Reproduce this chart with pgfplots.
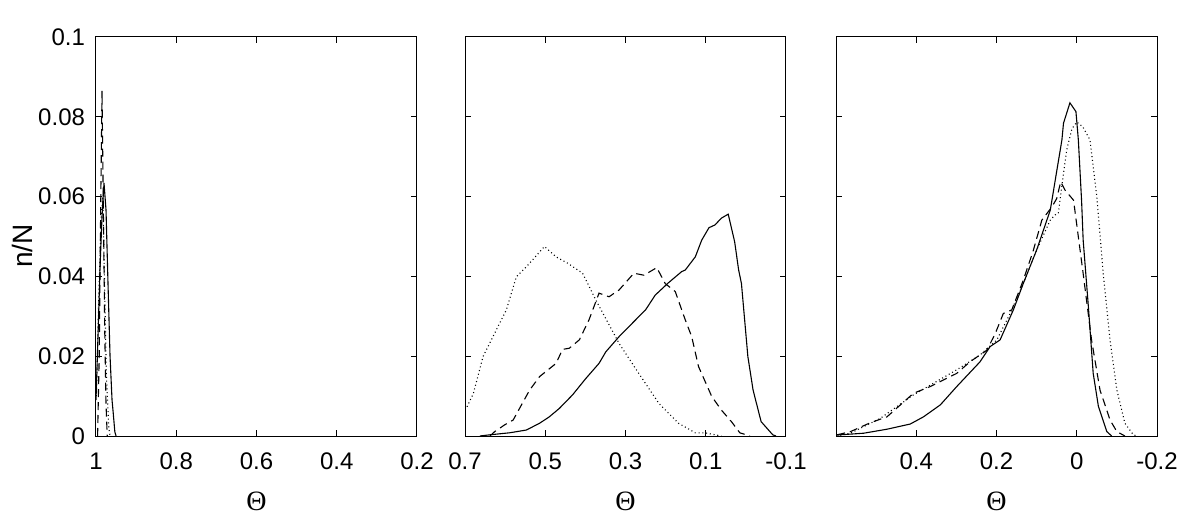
\documentclass[border=0pt]{standalone}
\usepackage{fontspec}
\setmainfont{Liberation Sans}
\newfontfamily\thetafont{Liberation Serif}
\usepackage{pgfplots}
\pgfplotsset{compat=1.18}
\pgfplotsset{
  panel/.style={
    scale only axis, width=160.5bp, height=199.5bp, anchor=south west,
    x dir=reverse, ymin=0, ymax=0.1,
    ytick={0,0.02,0.04,0.06,0.08,0.1},
    tick align=inside, major tick length=3bp,
    axis line style={line width=0.5bp, black},
    every tick/.style={line width=0.5bp, black},
    tick label style={font=\fontsize{12bp}{12bp}\selectfont},
    xticklabel style={yshift=-5bp},
    yticklabel style={xshift=-2bp},
    label style={font=\fontsize{14bp}{14bp}\selectfont},
    xlabel={{\thetafont Θ}},
    xlabel style={at={(axis description cs:0.5,-0.163)}, anchor=center},
    clip=true,
  },
  sol/.style={black, line width=0.55bp, no marks},
  das/.style={black, line width=0.55bp, no marks, dash pattern=on 4bp off 2.5bp},
  dot/.style={black, line width=0.55bp, no marks, dash pattern=on 0.5bp off 1.4bp},
}
\begin{document}
\begin{tikzpicture}
\useasboundingbox (0,0) rectangle (594bp,262bp);
% Panel 1
\begin{axis}[panel, at={(48bp,44bp)}, xmin=0.2, xmax=1,
  xtick={1,0.8,0.6,0.4,0.2}, xticklabels={1,0.8,0.6,0.4,0.2},
  yticklabels={0,0.02,0.04,0.06,0.08,0.1},
  ylabel={n/N}, ylabel style={at={(axis description cs:-0.229,0.476)}, anchor=center, rotate=0}]
\addplot[sol] coordinates {(1.0,0.009) (0.995,0.025) (0.99,0.042) (0.985,0.055) (0.98,0.0634) (0.975,0.0566) (0.97,0.038) (0.965,0.02) (0.96,0.009) (0.957,0.0057) (0.953,0.001) (0.95,0)};
\addplot[das] coordinates {(0.996,0) (0.992,0.02) (0.988,0.06) (0.985,0.0865) (0.982,0.06) (0.978,0.025) (0.975,0.008) (0.972,0)};
\addplot[dot] coordinates {(0.999,0.01) (0.993,0.035) (0.987,0.055) (0.983,0.06) (0.979,0.04) (0.974,0.015) (0.968,0.002) (0.965,0)};
\end{axis}
% Panel 2
\begin{axis}[panel, at={(232.5bp,44bp)}, xmin=-0.1, xmax=0.7,
  xtick={0.7,0.5,0.3,0.1,-0.1}, xticklabels={0.7,0.5,0.3,0.1,-0.1},
  yticklabels={}]
\addplot[sol] coordinates {(0.663,0) (0.638,0.0003) (0.589,0.0008) (0.547,0.0015) (0.514,0.0032) (0.490,0.0048) (0.465,0.0069) (0.432,0.0103) (0.399,0.0144) (0.366,0.0182) (0.349,0.0211) (0.316,0.0249) (0.267,0.0299) (0.250,0.0316) (0.226,0.0353) (0.193,0.0384) (0.160,0.0412) (0.151,0.0416) (0.126,0.0449) (0.110,0.0491) (0.092,0.0522) (0.077,0.0529) (0.061,0.0546) (0.044,0.0556) (0.028,0.0487) (0.018,0.0416) (0.011,0.0382) (-0.005,0.0199) (-0.018,0.0115) (-0.038,0.0036) (-0.067,0.0003) (-0.075,0)};
\addplot[das] coordinates {(0.638,0) (0.626,0.0011) (0.601,0.0028) (0.580,0.0040) (0.539,0.0115) (0.514,0.0149) (0.473,0.0182) (0.457,0.0217) (0.440,0.0220) (0.415,0.0241) (0.391,0.0291) (0.366,0.0358) (0.341,0.0349) (0.316,0.0366) (0.279,0.0408) (0.254,0.0403) (0.222,0.0422) (0.201,0.0382) (0.176,0.0362) (0.151,0.0291) (0.135,0.0249) (0.118,0.0174) (0.085,0.0099) (0.061,0.0065) (0.036,0.0036) (0.015,0.0008) (-0.010,0)};
\addplot[dot] coordinates {(0.700,0.0065) (0.694,0.0075) (0.679,0.0107) (0.655,0.0199) (0.618,0.0274) (0.597,0.0316) (0.572,0.0399) (0.547,0.0424) (0.502,0.0475) (0.473,0.0449) (0.444,0.0433) (0.407,0.0408) (0.374,0.0341) (0.316,0.0232) (0.267,0.0157) (0.217,0.0082) (0.168,0.0032) (0.126,0.0008) (0.102,0.0008) (0.061,0)};
\end{axis}
% Panel 3
\begin{axis}[panel, at={(418bp,44bp)}, xmin=-0.2, xmax=0.6,
  xtick={0.4,0.2,0,-0.2}, xticklabels={0.4,0.2,0,-0.2},
  yticklabels={}]
\addplot[sol] coordinates {(0.599,0.0002) (0.589,0.0003) (0.531,0.0007) (0.473,0.0017) (0.415,0.0030) (0.382,0.0048) (0.340,0.0078) (0.299,0.0124) (0.241,0.0186) (0.216,0.0224) (0.191,0.0241) (0.158,0.0316) (0.133,0.0383) (0.100,0.0466) (0.066,0.0566) (0.037,0.0742) (0.033,0.0784) (0.017,0.0835) (0.002,0.0813) (-0.004,0.0742) (-0.012,0.0591) (-0.016,0.0491) (-0.029,0.0324) (-0.041,0.0157) (-0.054,0.0074) (-0.075,0.0011) (-0.087,0)};
\addplot[das] coordinates {(0.597,0.0003) (0.564,0.0011) (0.515,0.0033) (0.473,0.0048) (0.407,0.0107) (0.365,0.0124) (0.299,0.0157) (0.266,0.0186) (0.224,0.0215) (0.203,0.0257) (0.183,0.0307) (0.162,0.0316) (0.133,0.0391) (0.108,0.0466) (0.087,0.0541) (0.062,0.0574) (0.050,0.0595) (0.040,0.0637) (0.029,0.0616) (0.008,0.0591) (-0.016,0.0407) (-0.037,0.0240) (-0.058,0.0115) (-0.083,0.0040) (-0.100,0.0011) (-0.120,0)};
\addplot[dot] coordinates {(0.590,0.0002) (0.564,0.0007) (0.490,0.0044) (0.407,0.0103) (0.299,0.0166) (0.241,0.0203) (0.199,0.0241) (0.166,0.0307) (0.133,0.0383) (0.100,0.0466) (0.066,0.0541) (0.054,0.0554) (0.046,0.0558) (0.033,0.0658) (0.025,0.0717) (0.012,0.0770) (0.000,0.0787) (-0.015,0.0775) (-0.033,0.0742) (-0.050,0.0600) (-0.066,0.0407) (-0.083,0.0240) (-0.100,0.0115) (-0.120,0.0032) (-0.141,0.0003) (-0.150,0)};
\end{axis}
\end{tikzpicture}
\end{document}
